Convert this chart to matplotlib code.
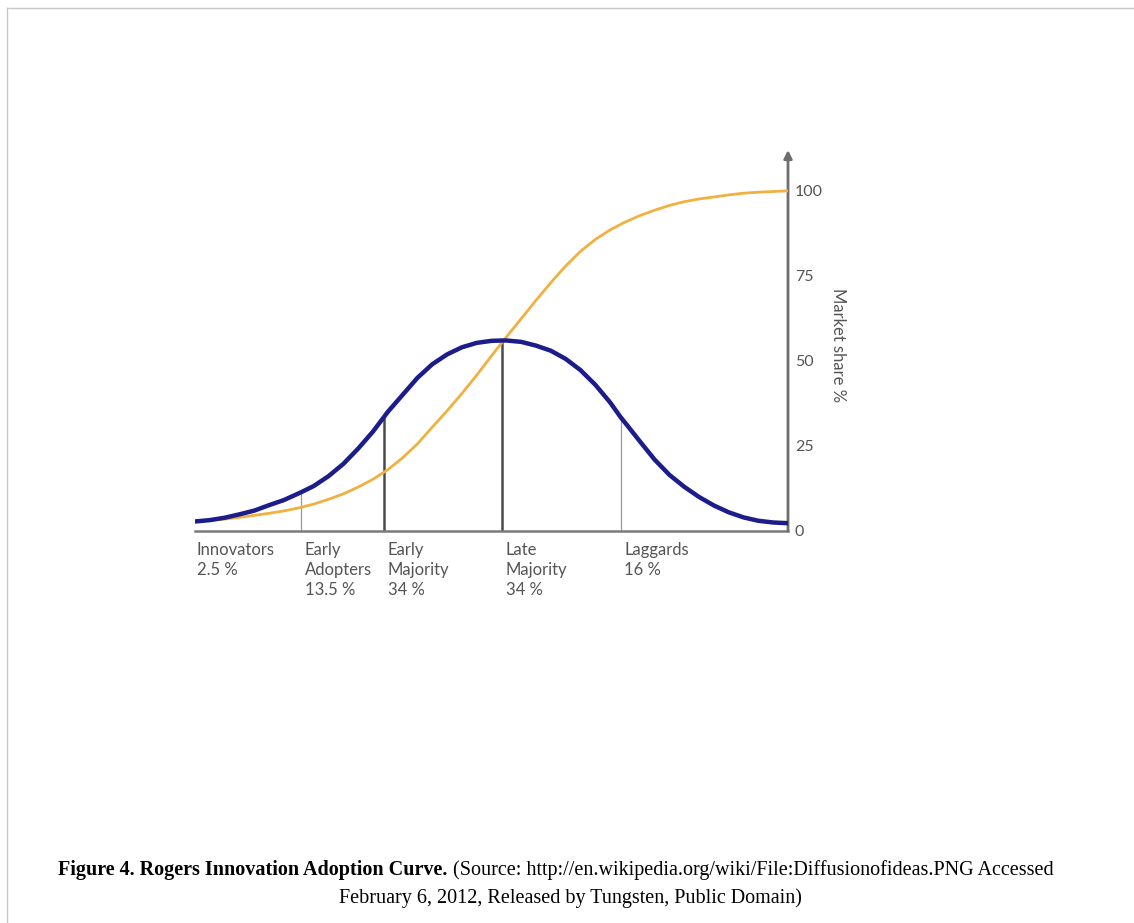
import matplotlib
matplotlib.use("Agg")
import matplotlib.pyplot as plt
from matplotlib.lines import Line2D

# ---- data (x: 0..100 across the axis, y: market share %) ----
bell_x = [0, 2.5, 5, 7.5, 10, 12.5, 15, 17.9, 20, 22.5, 25, 27.5, 30, 31.9,
          32.5, 35, 37.5, 40, 42.5, 45, 47.5, 50, 51.8, 52.5, 55, 57.5, 60,
          62.5, 65, 67.5, 70, 71.8, 72.5, 75, 77.5, 80, 82.5, 85, 87.5, 90,
          92.5, 95, 97.5, 100]
bell_y = [2.8, 3.2, 3.9, 4.9, 6.0, 7.6, 9.1, 11.4, 13.2, 16.1, 19.7, 24.2,
          29.2, 33.6, 35.0, 40.0, 45.0, 49.0, 51.9, 54.0, 55.3, 55.9, 56.0,
          56.0, 55.6, 54.5, 53.0, 50.6, 47.3, 43.0, 37.8, 33.4, 31.9, 26.4,
          21.0, 16.5, 13.0, 10.0, 7.5, 5.5, 4.0, 3.0, 2.5, 2.3]

s_x = [0, 2.5, 5, 7.5, 10, 12.5, 15, 17.5, 20, 22.5, 25, 27.5, 30, 32.5, 35,
       37.5, 40, 42.5, 45, 47.5, 50, 52.5, 55, 57.5, 60, 62.5, 65, 67.5, 70,
       72.5, 75, 77.5, 80, 82.5, 85, 87.5, 90, 92.5, 95, 97.5, 100]
s_y = [2.8, 3.1, 3.5, 4.0, 4.6, 5.2, 5.9, 6.8, 7.9, 9.3, 10.9, 12.9, 15.2,
       18.0, 21.5, 25.6, 30.5, 35.3, 40.4, 45.8, 51.5, 57.0, 62.4, 67.8,
       73.0, 77.9, 82.2, 85.7, 88.5, 90.8, 92.7, 94.3, 95.7, 96.8, 97.6,
       98.2, 98.8, 99.3, 99.6, 99.8, 100.0]

# dividing lines between adopter groups
div_x = [17.9, 31.9, 51.8, 71.8]
div_h = [11.4, 33.6, 56.0, 33.4]
div_heavy = [False, True, True, False]

group_names = ["Innovators", "Early\nAdopters", "Early\nMajority", "Late\nMajority", "Laggards"]
group_share = ["2.5 %", "13.5 %", "34 %", "34 %", "16 %"]

y_ticks = [0, 25, 50, 75, 100]

fig = plt.figure(figsize=(11.34, 9.23), dpi=100)
W, H = 1134, 923

# axes placed by pixel: x 195..788, y baseline at 531, top ~150
ax = fig.add_axes([195 / W, (H - 531) / H, 593 / W, 381 / H])
ax.set_xlim(0, 100)
ax.set_ylim(0, 112)
ax.patch.set_alpha(0)

for s in ["top", "left", "right"]:
    ax.spines[s].set_visible(False)
ax.spines["bottom"].set_color("#7a7a7a")
ax.spines["bottom"].set_linewidth(1.8)
ax.set_xticks([])

ax.yaxis.tick_right()
ax.set_yticks(y_ticks)
ax.set_yticklabels([str(t) for t in y_ticks])
ax.tick_params(axis="y", length=0, pad=5, labelsize=11.5, labelcolor="#555555")
for lab in ax.get_yticklabels():
    lab.set_family("Lato")

# vertical axis with arrow
ax.annotate("", xy=(100, 112), xytext=(100, 0), xycoords="data",
            arrowprops=dict(arrowstyle="-|>", color="#6e6e6e", lw=2.0,
                            mutation_scale=12, shrinkA=0, shrinkB=0),
            annotation_clip=False)

ax.text(108.4, 54.7, "Market share %", rotation=270, ha="center", va="center",
        fontsize=12, color="#555555", family="Lato")

# dividing lines
for x, h, heavy in zip(div_x, div_h, div_heavy):
    if heavy:
        ax.plot([x, x], [0, h], color="#4a4a4a", lw=1.8, solid_capstyle="butt", zorder=2)
    else:
        ax.plot([x, x], [0, h], color="#9a9a9a", lw=0.9, solid_capstyle="butt", zorder=2)

# curves
ax.plot(s_x, s_y, color="#f0b141", lw=2.0, zorder=3, solid_joinstyle="round")
ax.plot(bell_x, bell_y, color="#1c1c8a", lw=3.2, zorder=4, solid_joinstyle="round",
        solid_capstyle="round")

# group labels under the baseline
label_x = [0.3] + [x + 0.6 for x in div_x]
for x, name, share in zip(label_x, group_names, group_share):
    ax.text(x, -3.3, name + "\n" + share, ha="left", va="top", fontsize=12,
            color="#555555", family="Lato", linespacing=1.3)

# figure caption
renderer = fig.canvas.get_renderer()
bold_part = "Figure 4. Rogers Innovation Adoption Curve."
rest_part = " (Source: http://en.wikipedia.org/wiki/File:Diffusionofideas.PNG Accessed"
t1 = fig.text(0, 1 - 870 / H, bold_part, fontsize=14.5, fontweight="bold",
              family="Liberation Serif", va="center", ha="left")
t2 = fig.text(0, 1 - 870 / H, rest_part, fontsize=14.5,
              family="Liberation Serif", va="center", ha="left")
w1 = t1.get_window_extent(renderer).width
w2 = t2.get_window_extent(renderer).width
x0 = 556 - (w1 + w2) / 2
t1.set_x(x0 / W)
t2.set_x((x0 + w1) / W)
fig.text(570 / W, 1 - 898 / H, "February 6, 2012, Released by Tungsten, Public Domain)",
         fontsize=14.5, family="Liberation Serif", va="center", ha="center")

# thin page frame
fig.add_artist(Line2D([7 / W, 1], [1 - 8 / H, 1 - 8 / H], color="#c8c8c8", lw=1.0))
fig.add_artist(Line2D([7 / W, 7 / W], [0, 1 - 8 / H], color="#c8c8c8", lw=1.0))

fig.savefig("out.png", dpi=100)
